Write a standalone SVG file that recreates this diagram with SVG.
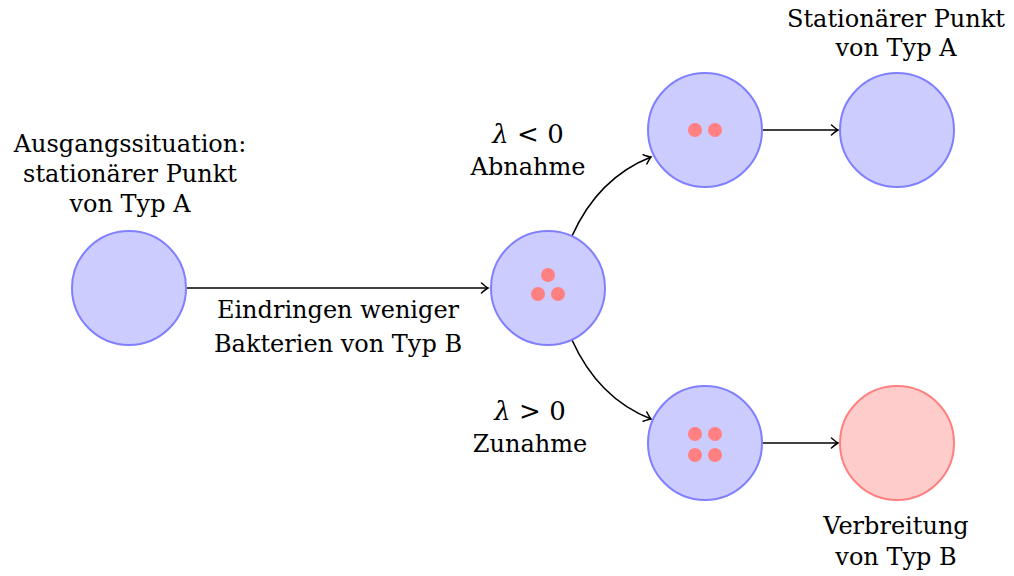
<svg xmlns="http://www.w3.org/2000/svg" width="1014" height="576" viewBox="0 0 1014 576">
  <style>
    .state { fill: #ccccff; stroke: #8080ff; stroke-width: 2; }
    .state-b { fill: #ffcccc; stroke: #ff8080; stroke-width: 2; }
    .dot { fill: #ff8080; }
    .edge { fill: none; stroke: #000; stroke-width: 1.6; marker-end: url(#tip); }
    text { font-family: "DejaVu Serif", "Liberation Serif", serif; font-size: 24px; fill: #000; text-anchor: middle; }
    .math { font-size: 26px; }
  </style>
  <defs>
    <marker id="tip" viewBox="-8 -6 10 12" markerWidth="10" markerHeight="12" refX="0" refY="0" orient="auto" markerUnits="userSpaceOnUse">
      <path d="M-6.5,-5 Q-2,-1 0,0 Q-2,1 -6.5,5" fill="none" stroke="#000" stroke-width="1.5" stroke-linecap="round"/>
    </marker>
  </defs>

  <rect width="1014" height="576" fill="#fff"/>

  <!-- connectors -->
  <g id="connectors">
    <path class="edge" d="M187,288 L488,288"/>
    <path class="edge" d="M572,236 C590,196 618,170 651,157"/>
    <path class="edge" d="M572,340 C590,380 618,406 651,419"/>
    <path class="edge" d="M763,130 L838,130"/>
    <path class="edge" d="M763,443 L838,443"/>
  </g>

  <!-- initial state -->
  <g id="start">
    <circle class="state" cx="129" cy="288" r="57"/>
    <text x="130" y="152">Ausgangssituation:</text>
    <text x="130" y="182">stationärer Punkt</text>
    <text x="130" y="212">von Typ A</text>
  </g>

  <!-- invasion label -->
  <g id="invasion-label">
    <text x="338" y="318">Eindringen weniger</text>
    <text x="338" y="352">Bakterien von Typ B</text>
  </g>

  <!-- state after invasion -->
  <g id="invaded">
    <circle class="state" cx="548" cy="288" r="57"/>
    <circle class="dot" cx="548" cy="275" r="7"/>
    <circle class="dot" cx="538" cy="294" r="7"/>
    <circle class="dot" cx="558" cy="294" r="7"/>
  </g>

  <!-- decreasing branch -->
  <g id="decrease">
    <text class="math" x="528" y="143"><tspan font-style="italic">λ</tspan> &lt; 0</text>
    <text x="528" y="175">Abnahme</text>
    <circle class="state" cx="705" cy="130" r="57"/>
    <circle class="dot" cx="695" cy="130" r="7"/>
    <circle class="dot" cx="715" cy="130" r="7"/>
  </g>

  <g id="stationary-a">
    <circle class="state" cx="897" cy="130" r="57"/>
    <text x="896" y="27">Stationärer Punkt</text>
    <text x="896" y="56">von Typ A</text>
  </g>

  <!-- increasing branch -->
  <g id="increase">
    <text class="math" x="530" y="420"><tspan font-style="italic">λ</tspan> &gt; 0</text>
    <text x="530" y="452">Zunahme</text>
    <circle class="state" cx="705" cy="443" r="57"/>
    <circle class="dot" cx="695" cy="434" r="7"/>
    <circle class="dot" cx="715" cy="434" r="7"/>
    <circle class="dot" cx="695" cy="455" r="7"/>
    <circle class="dot" cx="715" cy="455" r="7"/>
  </g>

  <g id="spread-b">
    <circle class="state-b" cx="897" cy="443" r="57"/>
    <text x="896" y="534">Verbreitung</text>
    <text x="896" y="565">von Typ B</text>
  </g>
</svg>
